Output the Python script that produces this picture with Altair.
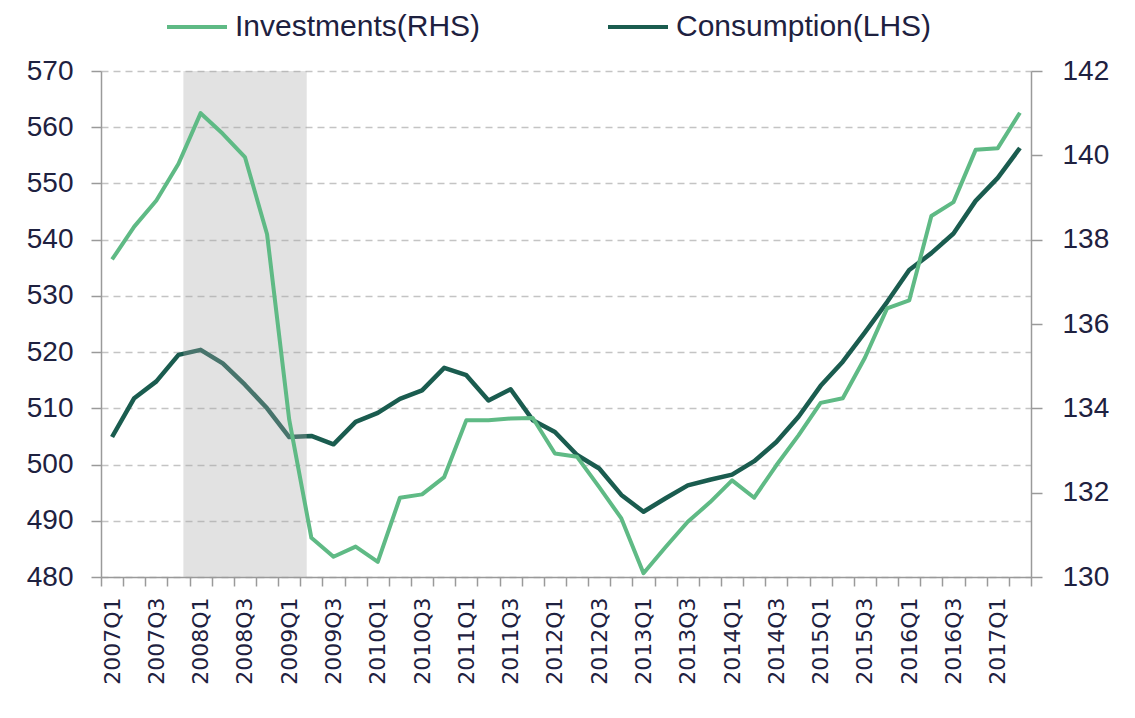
import altair as alt
import pandas as pd

quarters = [f"{y}Q{q}" for y in range(2007, 2018) for q in (1, 2, 3, 4)][:42]

# Consumption (left axis)
consumption = [504.9, 511.8, 514.8, 519.5, 520.4, 518.0, 514.2, 510.0, 504.9, 505.1,
               503.6, 507.6, 509.2, 511.7, 513.2, 517.2, 515.9, 511.4, 513.4, 507.9,
               505.8, 501.7, 499.3, 494.6, 491.6, 494.0, 496.3, 497.3, 498.2, 500.6,
               504.0, 508.5, 514.0, 518.3, 523.5, 528.9, 534.6, 537.6, 541.1, 546.9,
               551.0, 556.3]

# Investments (right axis)
investments = [137.53, 138.31, 138.93, 139.80, 141.00, 140.51, 139.96, 138.13, 133.73, 130.93,
               130.48, 130.72, 130.36, 131.88, 131.96, 132.37, 133.72, 133.72, 133.76, 133.77,
               132.93, 132.85, 132.13, 131.39, 130.09, 130.71, 131.31, 131.77, 132.29, 131.88,
               132.65, 133.36, 134.13, 134.24, 135.20, 136.37, 136.56, 138.56, 138.89, 140.13,
               140.17, 141.01]

series_names = ["Investments(RHS)", "Consumption(LHS)"]
series_colors = ["#5fba85", "#1a5c4f"]

left_ticks = [480, 490, 500, 510, 520, 530, 540, 550, 560, 570]
right_ticks = [130, 132, 134, 136, 138, 140, 142]

shade_start = ["2007Q4"]
shade_end = ["2009Q2"]

df = pd.DataFrame({"quarter": quarters, "consumption": consumption, "investments": investments})
shade_df = pd.DataFrame({"start": shade_start, "end": shade_end})

FONT_N = "Liberation Sans"
TXT = "#1e2140"
AX = "#9a9a9a"

x_scale = alt.Scale(type="band", domain=quarters, paddingInner=0, paddingOuter=0)
x_axis = alt.Axis(
    title=None, tickBand="extent", labelAngle=270,
    labelExpr="(indexof(datum.label,'Q1')>0 || indexof(datum.label,'Q3')>0) ? datum.label : ''",
    labelFont="DejaVu Sans", labelFontSize=22, labelColor=TXT, labelPadding=11,
    tickSize=9, tickColor=AX, tickWidth=1.5, domainColor=AX, domainWidth=1.5,
    grid=False, labelOverlap=False,
)
left_axis = alt.Axis(
    title=None, orient="left", values=left_ticks, grid=True, gridDash=[7, 5],
    gridColor="#c4c4c4", gridWidth=1.5, tickSize=10, tickColor=AX, tickWidth=1.5,
    domainColor=AX, domainWidth=1.5, labelFont=FONT_N, labelFontSize=28,
    labelColor=TXT, labelPadding=18,
)
right_axis = alt.Axis(
    title=None, orient="right", values=right_ticks, grid=False, tickSize=11,
    tickColor=AX, tickWidth=1.5, domainColor=AX, domainWidth=1.5,
    labelFont=FONT_N, labelFontSize=28, labelColor=TXT, labelPadding=20,
)
color_scale = alt.Scale(domain=series_names, range=series_colors)
legend = alt.Legend(
    orient="none", legendX=64, legendY=-76, direction="horizontal", title=None,
    symbolType="stroke", symbolStrokeWidth=4, symbolSize=3600,
    labelFont=FONT_N, labelFontSize=30, labelColor=TXT, labelOffset=6,
    columnPadding=119, labelLimit=500,
)

cons = alt.Chart(df).transform_calculate(series="'Consumption(LHS)'").mark_line(
    strokeWidth=4.5, strokeJoin="round"
).encode(
    x=alt.X("quarter:N", scale=x_scale, axis=x_axis, bandPosition=0.5),
    y=alt.Y("consumption:Q", scale=alt.Scale(domain=[480, 570], nice=False, zero=False), axis=left_axis),
    color=alt.Color("series:N", scale=color_scale, legend=legend),
)

shade = alt.Chart(shade_df).mark_rect(color="#a8a8a8", opacity=0.33).encode(
    x=alt.X("start:N", scale=x_scale, axis=x_axis, bandPosition=0.72),
    x2=alt.X2("end:N", bandPosition=0.29),
)

inv = alt.Chart(df).transform_calculate(series="'Investments(RHS)'").mark_line(
    strokeWidth=4, strokeJoin="round"
).encode(
    x=alt.X("quarter:N", scale=x_scale, axis=x_axis, bandPosition=0.5),
    y=alt.Y("investments:Q", scale=alt.Scale(domain=[130, 142], nice=False, zero=False), axis=right_axis),
    color=alt.Color("series:N", scale=color_scale, legend=legend),
)

chart = alt.layer(cons, shade, inv).resolve_scale(y="independent").properties(
    width=930, height=506,
    autosize=alt.AutoSizeParams(type="none"),
    padding={"left": 93, "top": 63, "right": 90, "bottom": 125},
    background="white",
).configure_view(stroke=None)

chart.save("out.html", embed_options={"renderer": "svg", "actions": False})
